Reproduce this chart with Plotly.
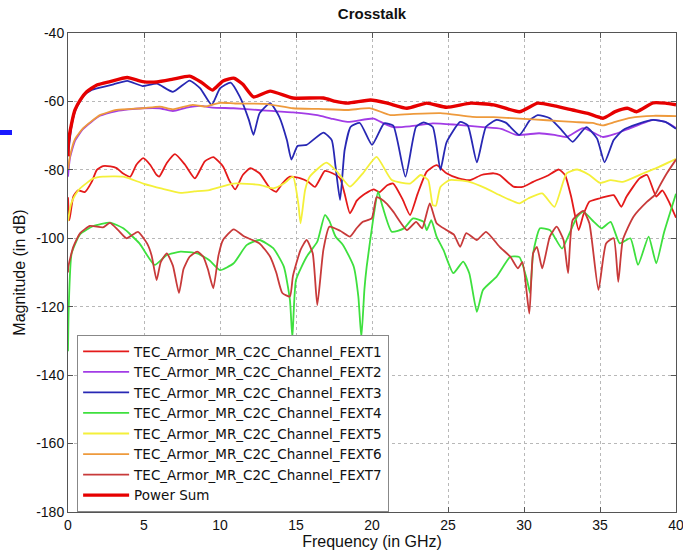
import plotly.graph_objects as go

# ---------------- data ----------------
fext1_f = [0, 0.09, 0.35, 0.66, 1.1, 1.56, 1.9, 2.3, 2.8, 3.2, 3.6, 4.1, 4.5, 4.95, 5.4, 5.83, 6.0, 6.5, 7.04, 7.7,
           8.35, 9.0, 9.56, 10.2, 10.6, 11.0, 11.5, 12.0, 12.6, 13.3, 13.7, 14.1, 14.6, 15.3, 15.8, 16.25, 16.9, 17.4,
           17.9, 18.2, 18.55, 19.0, 19.4, 20.1, 20.5, 21.0, 21.4, 22.0, 22.5, 23.0, 23.6, 24.25, 24.9, 25.7, 26.45,
           27.2, 28.0, 28.4, 29.3, 29.9, 30.6, 31.5, 32.3, 32.7, 33.1, 33.6, 33.9, 34.3, 35.0, 35.9, 36.4, 36.75,
           37.6, 38.1, 38.7, 39.1, 39.5, 40]
fext1_db = [-88, -94.7, -87.8, -86, -86.5, -83.5, -80, -78.9, -79, -79.5, -81, -82, -78.5, -76.6, -78.5, -81.5, -82,
            -78, -75.4, -78.5, -82.5, -77.5, -76.3, -79, -83, -85.7, -81.5, -79.5, -81, -85.4, -86.4, -84, -82,
            -82.5, -83.5, -85, -80.3, -81, -82.5, -87, -92.7, -89, -87.4, -85.7, -86.5, -84.5, -84, -88.5, -93.2,
            -87, -80.5, -78.6, -81, -82.5, -83, -81.5, -81, -81.5, -84.9, -85, -83.5, -81.8, -79.9, -81.5, -87.8,
            -97.6, -93.2, -89.3, -88.3, -87.4, -90.8, -87.8, -82.5, -81.5, -87.8, -86, -89, -94]

fext2_f = [0, 0.13, 0.46, 1.0, 2.1, 3.2, 4.0, 4.9, 6.0, 6.9, 7.8, 8.7, 9.5, 10.9, 12.5, 14.8, 16.4, 17.3, 18.4,
           20.1, 20.8, 21.4, 22.5, 24.0, 25.5, 27.3, 28.5, 29.5, 31.0, 32.0, 32.8, 33.9, 35.2, 36.0, 37.0, 38.5,
           39.3, 40]
fext2_db = [-82, -76.5, -71.5, -68, -64.2, -62.8, -62.3, -62, -62, -62.8, -61.8, -61.3, -61.8, -62, -62.5, -63.2,
            -64, -65, -66, -65, -66.5, -67.5, -67.3, -66.4, -66.8, -67.5, -68, -69.8, -69.3, -69.8, -70.4, -67.8,
            -70.4, -69.5, -67.8, -65.4, -66, -67.8]

fext3_f = [0, 0.24, 0.5, 1.0, 1.5, 2.1, 3.0, 3.9, 4.9, 5.85, 6.9, 8.0, 8.7, 9.45, 10.0, 10.7, 11.3, 11.9, 12.2,
           12.6, 13.3, 13.9, 14.4, 14.7, 15.1, 15.7, 16.8, 17.35, 17.6, 17.9, 18.2, 18.6, 19.2, 20.0, 20.8, 21.4,
           22.2, 22.9, 23.4, 24.0, 24.5, 24.9, 25.8, 26.3, 26.9, 27.5, 28.2, 28.8, 29.7, 30.4, 30.9, 31.7, 32.5,
           33.2, 34.1, 34.8, 35.3, 35.9, 36.5, 37.6, 38.5, 39.3, 40]
fext3_db = [-76, -67, -62.5, -58.5, -56.8, -56, -55, -54, -55.5, -54.8, -57.2, -53.9, -56.2, -61, -56.2, -54.5,
            -58.6, -65.4, -69.8, -63.5, -60.5, -64.5, -71.3, -77, -73, -72.7, -69.1, -71.3, -79, -88.8, -74.2,
            -67.4, -66.3, -72.7, -66.4, -67.1, -82, -67.4, -66.1, -67.5, -80, -72, -66, -67, -77.8, -67.4, -65.4,
            -66.2, -69.8, -65.4, -64, -64.9, -68.5, -71.8, -67.5, -70.8, -77.8, -71.3, -68.4, -66.4, -65.4, -66,
            -68]

fext4_f = [0, 0.05, 0.24, 0.8, 1.67, 2.76, 3.64, 4.7, 5.7, 6.5, 7.4, 8.5, 9.3, 10.0, 10.9, 11.75, 12.6, 13.5, 14.2,
           14.6, 14.76, 15.0, 15.7, 16.4, 16.9, 17.2, 17.6, 18.1, 18.8, 19.1, 19.3, 19.5, 19.65, 20.1, 20.4, 20.7,
           21.3, 22.1, 22.7, 23.4, 23.6, 23.9, 24.25, 24.7, 25.35, 26.0, 26.4, 26.9, 27.3, 28.2, 29.1, 29.7, 30.2,
           30.4, 30.6, 31.05, 31.7, 32.5, 32.9, 33.5, 33.9, 34.6, 35.1, 35.7, 36.3, 37.0, 37.5, 38.2, 38.7, 39.2,
           40]
fext4_db = [-133, -120, -104.4, -98.8, -96.4, -95.4, -97.1, -101.5, -107.8, -104.9, -103.9, -104.4, -106.4, -109.3,
            -107.3, -102, -100.5, -102.9, -108.3, -118, -129, -112.2, -105.4, -101, -93.2, -95, -99.5, -102,
            -108.3, -117, -129, -115, -108.3, -93.7, -86.4, -90.8, -98.1, -97.1, -94.2, -95.2, -97.6, -94.7, -99.5,
            -103.4, -110.2, -106.8, -110.2, -121.5, -115.1, -111.2, -105.4, -105.5, -112.2, -116, -104.4, -97.1,
            -97.6, -103, -99.5, -93.7, -92.2, -95.2, -97.1, -95.2, -101.5, -100, -107.8, -99.5, -107.3, -98.5, -87]

fext5_f = [0, 0.2, 0.46, 0.8, 1.67, 2.3, 3.64, 4.95, 6.2, 7.4, 8.3, 9.3, 10.9, 12.6, 13.5, 14.2, 14.8, 15.15, 15.3,
           15.6, 15.9, 17.0, 17.7, 18.55, 19.4, 20.3, 21.3, 22.5, 23.2, 23.7, 24.0, 24.2, 24.5, 25.1, 26.4, 27.5,
           28.4, 29.7, 30.3, 31.2, 32.0, 32.8, 33.5, 34.3, 35.0, 35.7, 36.5, 37.85, 38.7, 40]
fext5_db = [-95, -90, -87.4, -85.4, -82.5, -82, -82, -84, -85.5, -86.7, -86.3, -85.9, -84, -84.4, -85.4, -84, -82,
            -89.8, -95.6, -85.9, -82, -77.9, -80.5, -84.9, -81, -76.2, -83, -84, -81.5, -83, -90.3, -90.5, -85, -83,
            -83.5, -85.4, -87.4, -89.8, -88.3, -86.9, -90.8, -81, -79.9, -81.5, -83.8, -83, -83.5, -81, -79.5,
            -76.8]

fext6_f = [0, 0.13, 0.46, 1.0, 2.1, 3.2, 4.9, 6.05, 6.9, 8.2, 9.0, 10.0, 11.0, 13.0, 14.8, 16.5, 18.4, 19.9, 21.2,
           22.5, 24.5, 26.6, 28.0, 29.7, 31.5, 33.2, 34.5, 35.2, 36.0, 37.0, 38.5, 40]
fext6_db = [-80, -76, -71, -67.8, -64, -62.5, -62, -61.5, -62.3, -61, -61.5, -60.4, -60.6, -60.7, -62, -62.2,
            -62.5, -62, -64, -63.7, -63.4, -64.5, -64.6, -65, -65.5, -66, -66.3, -67, -66, -64.8, -64.2, -64.3]

fext7_f = [0, 0.02, 0.35, 0.8, 1.45, 2.3, 2.76, 3.3, 3.86, 4.6, 5.2, 5.5, 5.83, 6.1, 6.5, 6.9, 7.3, 7.6, 8.0, 8.5,
           8.9, 9.2, 9.56, 9.9, 10.2, 10.9, 11.6, 12.6, 13.3, 13.7, 14.1, 14.6, 14.8, 15.3, 15.7, 16.1, 16.4, 16.8,
           17.2, 17.9, 18.55, 19.0, 19.4, 19.98, 20.3, 20.6, 21.0, 21.4, 22.3, 22.9, 23.3, 23.8, 24.25, 24.9, 25.4,
           25.8, 26.2, 26.9, 27.5, 28.4, 29.1, 29.6, 29.9, 30.35, 30.6, 30.85, 31.2, 31.7, 32.15, 32.6, 32.9, 33.2,
           33.9, 34.3, 34.9, 35.4, 35.9, 36.2, 36.5, 37.2, 38.1, 38.6, 38.9, 39.4, 40]
fext7_db = [-110, -108.3, -102.5, -98.5, -96.4, -96.8, -95.5, -97.6, -100, -98.1, -101.5, -105, -112.2, -107,
            -104.4, -108, -116, -109, -105.4, -103.9, -105.4, -109, -114.6, -105, -100.5, -97.4, -99.5, -101.5,
            -105.4, -110, -116, -117, -111, -103.4, -100.5, -104.4, -119.5, -103.4, -96.6, -97.8, -99.5, -97,
            -95.2, -94.2, -88, -88.5, -90, -92.2, -97.6, -95.2, -97.1, -89.8, -95.6, -97.6, -99, -102.5, -98.5,
            -100.5, -98.1, -102.5, -105.4, -108.8, -107, -122, -104.4, -102.5, -108.8, -99.5, -96.6, -100.5,
            -110.2, -94.7, -92, -95.6, -115.1, -101.5, -100, -112.7, -100.5, -93.7, -89.3, -87.4, -84.9, -81, -77]

psum_f = [0, 0.02, 0.24, 0.46, 0.8, 1.23, 1.9, 2.76, 3.9, 4.9, 5.85, 6.9, 8.0, 8.8, 9.5, 10.2, 10.9, 11.5, 12.2,
          13.3, 14.8, 16.8, 17.6, 18.4, 19.9, 21.0, 22.3, 23.6, 24.9, 26.5, 28.0, 29.7, 30.9, 32.0, 33.2, 34.2,
          35.2, 36.0, 36.8, 37.4, 38.5, 39.3, 40]
psum_db = [-76, -72.2, -66.4, -62.5, -59.6, -57.2, -55.2, -54.2, -53, -54.2, -54.3, -53.5, -52.6, -54.5, -56.7,
           -54, -53.2, -55, -58.7, -57, -59, -59, -60, -60.5, -59.6, -60.5, -62, -60.5, -61.7, -60.5, -61, -63,
           -60.5, -61.3, -62.5, -63.5, -64.9, -63, -62, -63, -60.4, -60.5, -61]

series_names = ["TEC_Armor_MR_C2C_Channel_FEXT1", "TEC_Armor_MR_C2C_Channel_FEXT2",
                "TEC_Armor_MR_C2C_Channel_FEXT3", "TEC_Armor_MR_C2C_Channel_FEXT4",
                "TEC_Armor_MR_C2C_Channel_FEXT5", "TEC_Armor_MR_C2C_Channel_FEXT6",
                "TEC_Armor_MR_C2C_Channel_FEXT7", "Power Sum"]
x_ticks = [0, 5, 10, 15, 20, 25, 30, 35, 40]
y_ticks = [-180, -160, -140, -120, -100, -80, -60, -40]

# ---------------- styles ----------------
colors = ["#e41a1a", "#a23ce6", "#2828b4", "#3ee03e", "#f4f03a", "#ee9a3c", "#c83a3a", "#e60000"]
widths = [1.8, 1.8, 1.8, 1.8, 1.8, 1.8, 1.8, 3.4]
xs = [fext1_f, fext2_f, fext3_f, fext4_f, fext5_f, fext6_f, fext7_f, psum_f]
ys = [fext1_db, fext2_db, fext3_db, fext4_db, fext5_db, fext6_db, fext7_db, psum_db]

FONT = "Liberation Sans, Arial, Helvetica, sans-serif"

fig = go.Figure()
for name, x, y, c, w in zip(series_names, xs, ys, colors, widths):
    fig.add_trace(go.Scatter(x=x, y=y, mode="lines", name=name,
                             line=dict(color=c, width=w, shape="spline", smoothing=0.5)))

axis_common = dict(showline=True, linecolor="#555555", linewidth=1, mirror="ticks",
                   ticks="inside", ticklen=5, tickcolor="#555555",
                   showgrid=True, gridcolor="#b8b8b8", griddash="dot", gridwidth=1,
                   zeroline=False, automargin=False, ticklabeloverflow="allow",
                   tickfont=dict(family=FONT, size=14, color="#111111"))

fig.update_layout(
    width=683, height=555,
    margin=dict(l=68, r=7, t=33, b=43),
    paper_bgcolor="white", plot_bgcolor="white",
    title=dict(text="<b>Crosstalk</b>", x=0.5, xref="paper", xanchor="center",
               y=(555 - 14) / 555, yref="container", yanchor="middle",
               font=dict(family=FONT, size=15, color="#111111")),
    xaxis=dict(range=[0, 40], tickvals=x_ticks, ticktext=[str(v) for v in x_ticks],
               title=dict(text="Frequency (in GHz)", font=dict(family=FONT, size=16, color="#111111"),
                          standoff=2),
               **axis_common),
    yaxis=dict(range=[-180, -40], tickvals=y_ticks, ticktext=[str(v) for v in y_ticks],
               title=dict(text="Magnitude (in dB)", font=dict(family=FONT, size=16, color="#111111"),
                          standoff=6),
               **axis_common),
    legend=dict(x=0.015, y=(512 - 335) / 479, xanchor="left", yanchor="top",
                bgcolor="white", bordercolor="#888888", borderwidth=1,
                font=dict(family="DejaVu Sans, sans-serif", size=13.5, color="#111111"),
                itemwidth=46, tracegroupgap=0),
    showlegend=True,
)

# small blue mark at the far left of the slide
fig.add_shape(type="line", xref="paper", yref="paper",
              x0=-68 / 608, x1=-56 / 608, y0=(512 - 132.5) / 479, y1=(512 - 132.5) / 479,
              line=dict(color="#1a1aff", width=5))

fig.write_html("out.html",
               config={"displayModeBar": False},
               post_script="document.body.style.margin='0';document.body.style.padding='0';"
                           "document.body.style.overflow='hidden';")
